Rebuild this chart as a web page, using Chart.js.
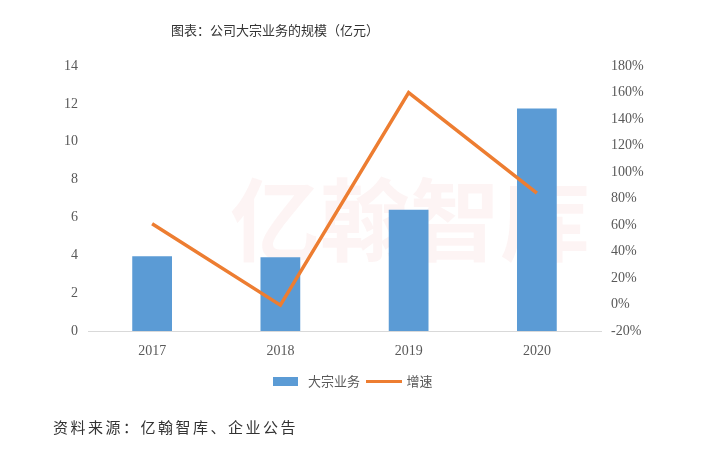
<!DOCTYPE html>
<html>
<head>
<meta charset="utf-8">
<script src="https://cdn.jsdelivr.net/npm/chart.js@4"></script>
<style>
    html, body { margin: 0; padding: 0; background: #fff; }
    #wrap { position: relative; width: 720px; height: 449px; }
    #title {
        position: absolute; left: 0; width: 550px; top: 20px; text-align: center;
        font: 13px "Noto Sans CJK SC", sans-serif; color: #333;
    }
    #source {
        position: absolute; left: 53px; top: 416px;
        font: 15px "Noto Sans CJK SC", sans-serif; color: #333; letter-spacing: 2.5px;
    }
</style>
</head>
<body>
<div id="wrap">
    <canvas id="chart" width="720" height="449"></canvas>
    <div id="title">图表：公司大宗业务的规模（亿元）</div>
    <div id="source">资料来源：亿翰智库、企业公告</div>
</div>
<script>
const years = ['2017', '2018', '2019', '2020'];
const volume = [3.95, 3.9, 6.4, 11.75];
const growth = [61, -0.5, 160, 84];

const tickFont = { family: '"Liberation Serif", serif', size: 14 };

// legend markers: a blue block for the bars, an orange stroke for the line
function marker(w, h, color) {
    const c = document.createElement('canvas');
    c.width = w;
    c.height = h;
    const g = c.getContext('2d');
    g.fillStyle = color;
    g.fillRect(0, 0, w, h);
    return c;
}
const barMarker = marker(25, 9, '#5B9BD5');
const lineMarker = marker(36, 3, '#ED7D31');

const watermark = {
    id: 'watermark',
    beforeDatasetsDraw(chart) {
        const ctx = chart.ctx;
        ctx.save();
        ctx.fillStyle = 'rgba(220, 70, 70, 0.06)';
        ctx.font = 'bold 90px "Noto Sans CJK SC", sans-serif';
        ctx.textBaseline = 'middle';
        ctx.fillText('亿翰智库', 230, 220);
        ctx.restore();
    }
};

new Chart(document.getElementById('chart'), {
    data: {
        labels: years,
        datasets: [
            {
                type: 'line',
                label: '增速',
                data: growth,
                yAxisID: 'yGrowth',
                borderColor: '#ED7D31',
                backgroundColor: '#ED7D31',
                borderWidth: 3.5,
                pointRadius: 0,
                pointStyle: lineMarker,
                tension: 0,
                order: 0
            },
            {
                type: 'bar',
                label: '大宗业务',
                data: volume,
                yAxisID: 'yVolume',
                backgroundColor: '#5B9BD5',
                pointStyle: barMarker,
                categoryPercentage: 1,
                barPercentage: 0.31,
                order: 1
            }
        ]
    },
    options: {
        responsive: false,
        animation: false,
        layout: { padding: { top: 66, left: 0, right: 18, bottom: 51 } },
        plugins: {
            legend: {
                position: 'bottom',
                reverse: true,
                labels: {
                    font: { family: '"Noto Sans CJK SC", sans-serif', size: 13 },
                    color: '#595959',
                    usePointStyle: true,
                    pointStyleWidth: 32,
                    padding: 8
                }
            },
            tooltip: { enabled: false }
        },
        scales: {
            x: {
                grid: { display: false, drawTicks: false },
                border: { color: '#d9d9d9', width: 1 },
                ticks: { font: tickFont, color: '#595959', padding: 12 },
                afterFit(s) { s.height = 36; }
            },
            yVolume: {
                type: 'linear',
                position: 'left',
                min: 0,
                max: 14,
                grid: { display: false, drawTicks: false },
                border: { display: false },
                ticks: { stepSize: 2, font: tickFont, color: '#595959', padding: 10 },
                afterFit(s) { s.width = 88; }
            },
            yGrowth: {
                type: 'linear',
                position: 'right',
                min: -20,
                max: 180,
                grid: { display: false, drawTicks: false },
                border: { display: false },
                ticks: {
                    stepSize: 20, font: tickFont, color: '#595959', padding: 10,
                    callback: v => v + '%'
                },
                afterFit(s) { s.width = 101; }
            }
        }
    },
    plugins: [watermark]
});
</script>
</body>
</html>
